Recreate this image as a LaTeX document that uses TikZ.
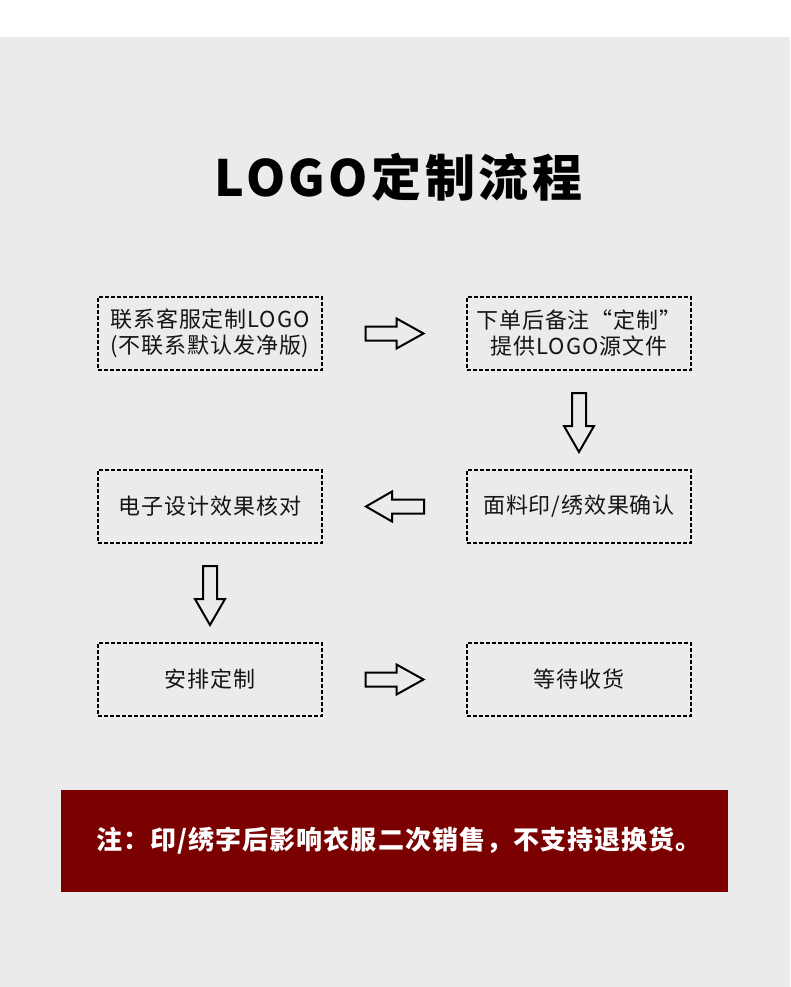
\documentclass[tikz,border=0pt]{standalone}
\usepackage{fontspec}
\setmainfont{Noto Sans CJK SC}
\usetikzlibrary{calc}
\definecolor{bg}{RGB}{235,235,235}
\definecolor{txt}{RGB}{20,20,20}
\definecolor{banred}{RGB}{123,0,0}
\tikzset{
  stepbox/.style={draw=black, line width=2.1pt, dash pattern=on 4pt off 2pt,
    minimum width=224pt, minimum height=73pt, align=center, inner sep=0pt,
    font=\fontsize{22}{26}\selectfont\addfontfeature{LetterSpace=4}, text=txt},
  titlestyle/.style={font=\fontsize{50}{60}\selectfont\bfseries\addfontfeature{LetterSpace=7}, text=black, inner sep=0pt},
  bannerstyle/.style={fill=banred, minimum width=667pt, minimum height=102pt, inner sep=0pt},
  bannertext/.style={text=white, inner sep=0pt,
    font=\fontsize{26}{30}\selectfont\bfseries\addfontfeature{LetterSpace=4}},
  arrowline/.style={draw=black, line width=2pt, line join=miter},
  rarrow/.pic={\path[arrowline] (-29,-7) -- (2,-7) -- (2,-15) -- (29,0) -- (2,15) -- (2,7) -- (-29,7) -- cycle;},
  larrow/.pic={\path[arrowline] (29.5,-7) -- (-2.5,-7) -- (-2.5,-15) -- (-28.5,0) -- (-2.5,15) -- (-2.5,7) -- (29.5,7) -- cycle;},
  darrow/.pic={\path[arrowline] (-7,-27) -- (7,-27) -- (7,6) -- (15,6) -- (0,32) -- (-15,6) -- (-7,6) -- cycle;}
}
\begin{document}
\begin{tikzpicture}[x=1pt,y=-1pt]
\fill[white] (0,0) rectangle (790,987);
\fill[bg] (0,37) rectangle (790,987);
\useasboundingbox (0,0) rectangle (790,987);
\node[titlestyle] (title) at (398.5,177) {LOGO定制流程};
\node[stepbox] (s1) at (210,333.5) {联系客服定制LOGO\\(不联系默认发净版)};
\node[stepbox] (s2) at (579,333.5) {下单后备注“定制”\\提供LOGO源文件};
\node[stepbox] (s3) at (579,506.5) {面料印/绣效果确认};
\node[stepbox] (s4) at (210,506.5) {电子设计效果核对};
\node[stepbox] (s5) at (210,679.5) {安排定制};
\node[stepbox] (s6) at (579,679.5) {等待收货};
\pic (a1) at ($(s1.east)!0.5!(s2.west)$) {rarrow};
\pic (a2) at ($(s2.south)!0.5!(s3.north)$) {darrow};
\pic (a3) at ($(s3.west)!0.5!(s4.east)$) {larrow};
\pic (a4) at ($(s4.south)!0.5!(s5.north)$) {darrow};
\pic (a5) at ($(s5.east)!0.5!(s6.west)$) {rarrow};
\node[bannerstyle] (note) at (394.5,841) {};
\node[bannertext] (notetext) at (399,841) {注：印/绣字后影响衣服二次销售，不支持退换货。};
\end{tikzpicture}
\end{document}
